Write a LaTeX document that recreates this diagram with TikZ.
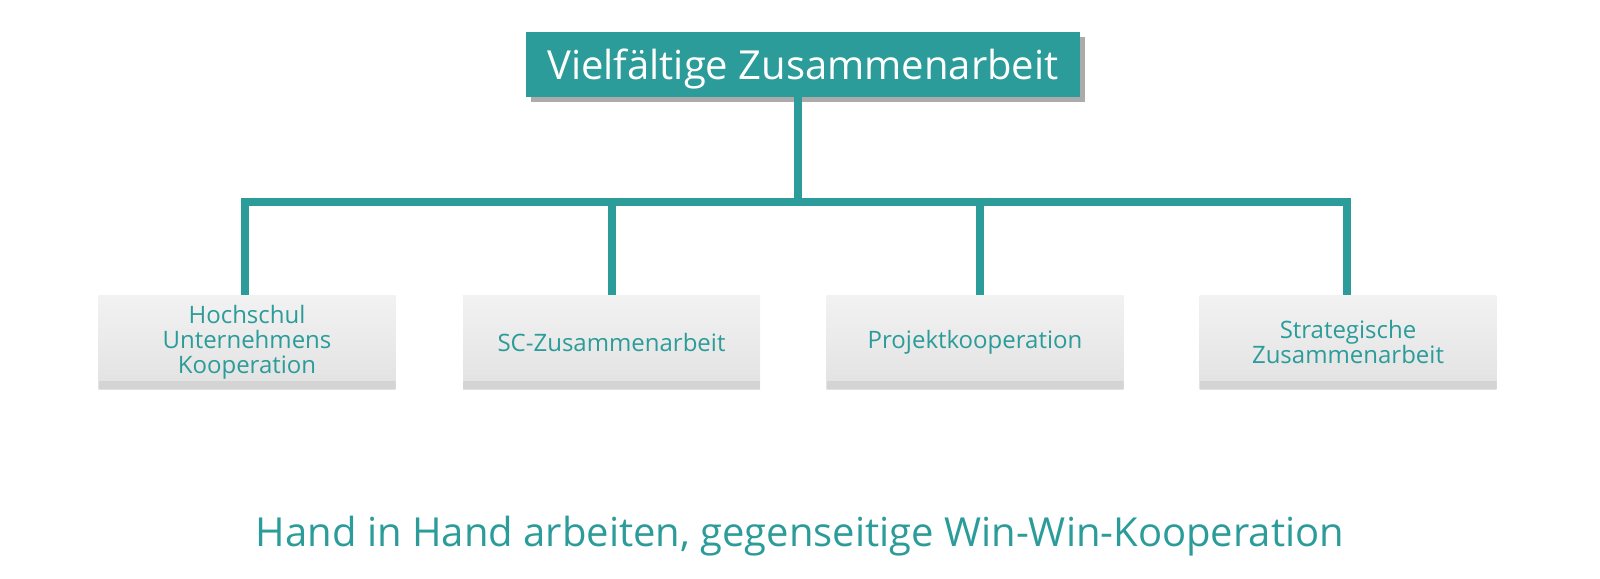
\documentclass[tikz,border=0pt]{standalone}
\usepackage{fontspec}
\setmainfont{Open Sans}
\usetikzlibrary{shadows}
\definecolor{teal}{HTML}{2B9C99}
\definecolor{shadowgray}{HTML}{ABABAB}
\definecolor{bandgray}{HTML}{D4D4D4}
\definecolor{boxtop}{HTML}{F2F2F2}
\definecolor{boxbot}{HTML}{E2E2E2}
\tikzset{
  topbox/.style={fill=teal, text=white, minimum width=554pt, minimum height=64pt,
    inner sep=0pt, font=\fontsize{40}{48}\selectfont, text height=40pt, text depth=9.6pt,
    drop shadow={shadow xshift=5pt, shadow yshift=-5pt, fill=shadowgray, opacity=1}},
  subbox/.style={top color=boxtop, bottom color=boxbot, minimum width=297pt,
    minimum height=94pt, inner sep=0pt, text=teal, align=center,
    font=\fontsize{24}{25}\selectfont,
    path picture={\fill[bandgray] (path picture bounding box.south west) rectangle
      ([yshift=8pt]path picture bounding box.south east);}},
  conn/.style={draw=teal, line width=8pt},
  foot/.style={text=teal, font=\fontsize{40}{48}\selectfont, inner sep=0pt}
}
\begin{document}
\begin{tikzpicture}[x=1pt,y=-1pt]
\useasboundingbox (0,0) rectangle (1600,578);
\node[topbox] (top) at (803,64.5) {Vielfältige Zusammenarbeit};
\coordinate (j) at (798,201.5);
\coordinate (d1) at (245,201.5);
\coordinate (d2) at (612,201.5);
\coordinate (d3) at (980,201.5);
\coordinate (d4) at (1347,201.5);
\node[subbox] (b1) at (247,342) {Hochschul\\Unternehmens\\Kooperation};
\node[subbox] (b2) at (611.5,342) {SC-Zusammenarbeit};
\node[subbox] (b3) at (975,342) {Projektkooperation};
\node[subbox] (b4) at (1348,342) {Strategische\\Zusammenarbeit};
\draw[conn] (top.south -| j) -- (j);
\draw[conn] (d1 |- b1.north) -- (d1) -- (d4) -- (d4 |- b4.north);
\draw[conn] (d2) -- (d2 |- b2.north);
\draw[conn] (d3) -- (d3 |- b3.north);
\node[foot, anchor=base] (ft) at (800,546) {Hand in Hand arbeiten, gegenseitige Win-Win-Kooperation};
\end{tikzpicture}
\end{document}
